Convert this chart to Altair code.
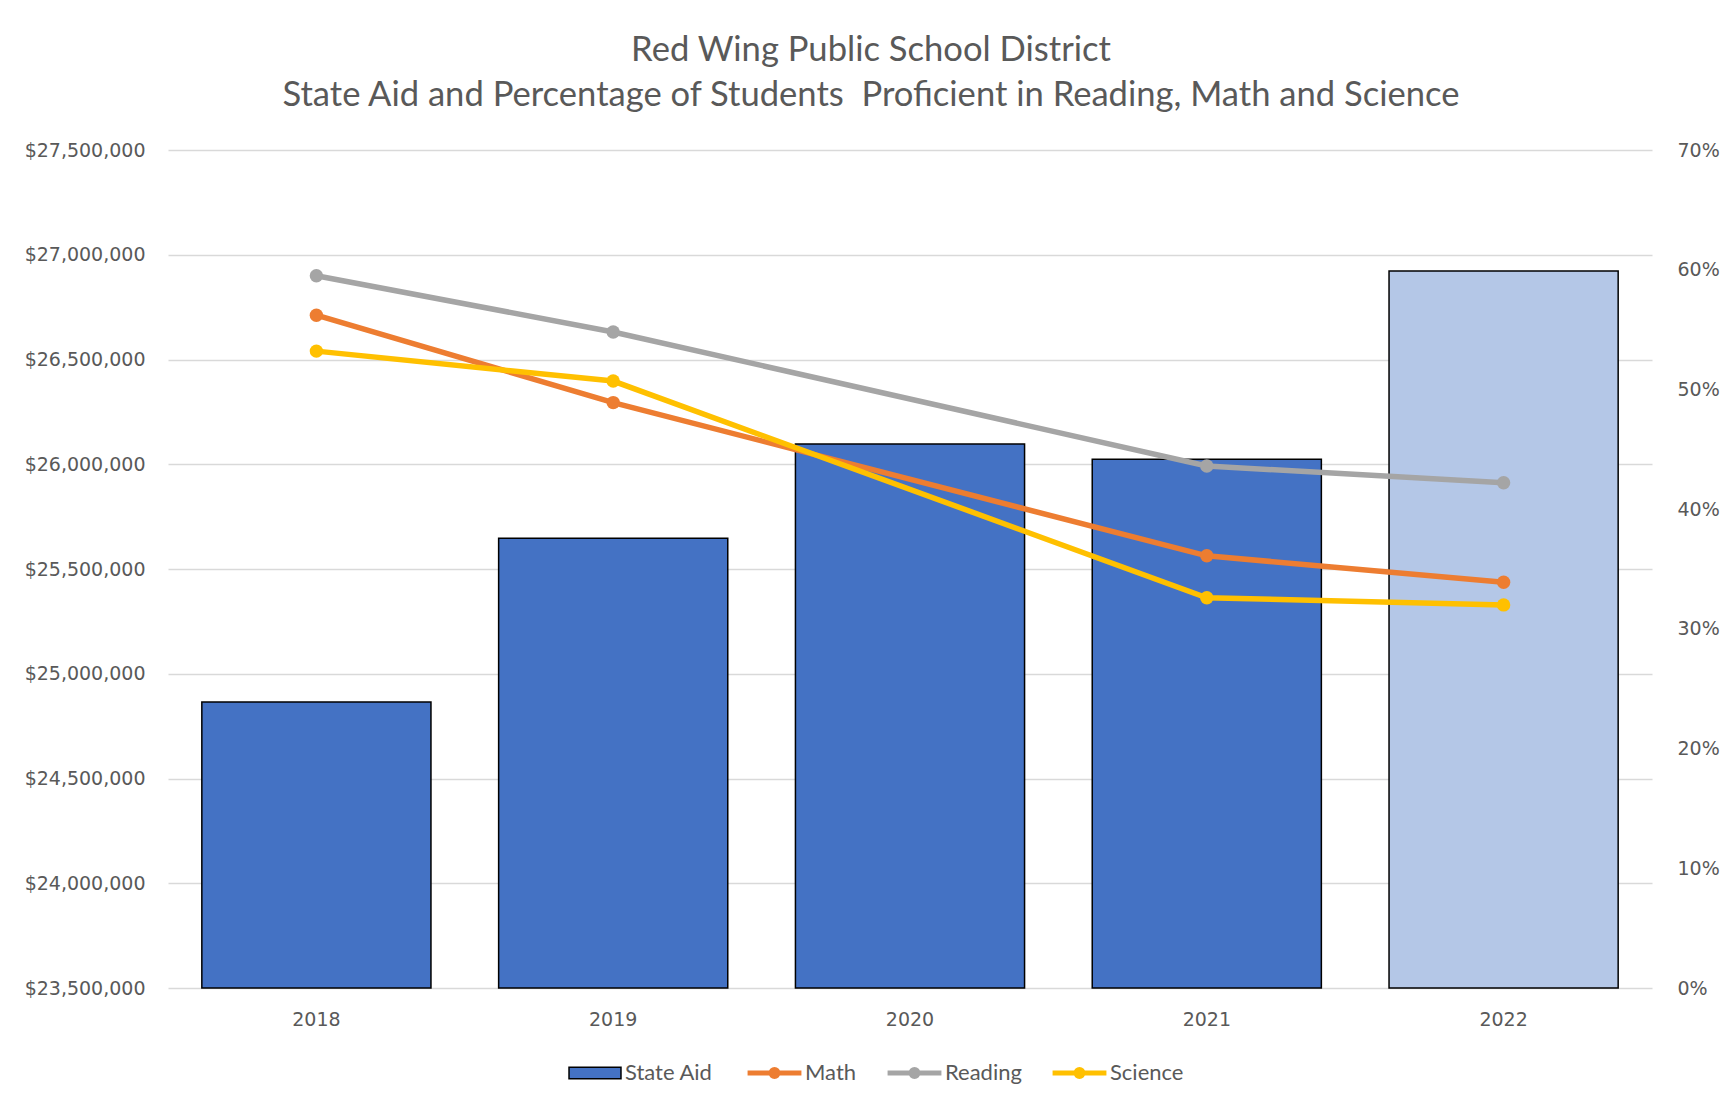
import altair as alt
import pandas as pd

years = ["2018", "2019", "2020", "2021", "2022"]
state_aid = [24865000, 25647000, 26097000, 26024000, 26922000]
math = [0.562, 0.489, None, 0.361, 0.339]
reading = [0.595, 0.548, None, 0.436, 0.422]
science = [0.532, 0.507, None, 0.326, 0.320]

line_names = ["Math", "Reading", "Science"]
line_colors = ["#ED7D31", "#A5A5A5", "#FFC000"]
bar_color = "#4472C4"
bar_color_2022 = "#B4C7E7"

money_ticks = list(range(23500000, 27500001, 500000))
pct_ticks = [0, 0.1, 0.2, 0.3, 0.4, 0.5, 0.6, 0.7]

bars_df = pd.DataFrame({"year": years, "aid": state_aid, "series": "State Aid"})
rows = []
for name, vals in zip(line_names, [math, reading, science]):
    for y, v in zip(years, vals):
        if v is not None:
            rows.append({"year": y, "pct": v, "series": name})
lines_df = pd.DataFrame(rows)

TXT = "#595959"
GRID = "#D9D9D9"

rect_path = "M-1,-0.22H1V0.22H-1Z"
line_path = "M-1,0H1M0.13,0A0.13,0.13,0,1,1,-0.13,0A0.13,0.13,0,1,1,0.13,0"

legend_common = dict(
    title=None, orient="none", direction="horizontal",
    labelFont="Lato", labelFontSize=22, labelColor=TXT,
    columnPadding=20,
)

bar_legend = alt.Legend(
    legendX=400, legendY=896, symbolType=rect_path, symbolSize=2700,
    symbolStrokeColor="#000000", symbolStrokeWidth=1.5, symbolOpacity=1,
    labelOffset=3, **legend_common,
)
line_legend = alt.Legend(
    legendX=577, legendY=893, symbolType=line_path, symbolSize=2900,
    symbolStrokeWidth=5, symbolOpacity=1,
    labelOffset=1, **legend_common,
)

x_axis = alt.Axis(
    title=None, labelAngle=0, domain=False, ticks=False, grid=False,
    labelFont="DejaVu Sans", labelFontSize=19, labelColor=TXT, labelPadding=22,
)
x_enc = alt.X(
    "year:N",
    sort=years,
    scale=alt.Scale(paddingInner=0.228, paddingOuter=0.114),
    axis=x_axis,
)

bars = alt.Chart(bars_df).mark_bar(stroke="#000000", strokeWidth=1.5, opacity=1).encode(
    x=x_enc,
    y=alt.Y(
        "aid:Q",
        scale=alt.Scale(domain=[23500000, 27500000], zero=False, nice=False),
        axis=alt.Axis(
            title=None, orient="left", values=money_ticks, format="$,.0f",
            domain=False, ticks=False, grid=True, gridColor=GRID, gridWidth=1.3,
            labelFont="DejaVu Sans", labelFontSize=19, labelColor=TXT, labelPadding=23,
        ),
    ),
    y2=alt.datum(23500000),
    fill=alt.condition(
        alt.datum.year == "2022",
        alt.value(bar_color_2022),
        alt.Fill("series:N", scale=alt.Scale(domain=["State Aid"], range=[bar_color]),
                 legend=bar_legend),
    ),
)

pct_axis = alt.Axis(
    title=None, orient="right", values=pct_ticks, format=".0%",
    domain=False, ticks=False, grid=False,
    labelFont="DejaVu Sans", labelFontSize=19, labelColor=TXT, labelPadding=25,
)
pct_scale = alt.Scale(domain=[0, 0.7], nice=False)

line_scale = alt.Scale(domain=line_names, range=line_colors)

lines = alt.Chart(lines_df).mark_line(strokeWidth=5.5, opacity=1).encode(
    x=alt.X("year:N", sort=years, axis=x_axis),
    y=alt.Y("pct:Q", scale=pct_scale, axis=pct_axis),
    stroke=alt.Stroke("series:N", scale=line_scale, legend=line_legend),
)
points = alt.Chart(lines_df).mark_circle(size=180, opacity=1).encode(
    x=alt.X("year:N", sort=years, axis=x_axis),
    y=alt.Y("pct:Q", scale=pct_scale, axis=pct_axis),
    fill=alt.Fill("series:N", scale=line_scale, legend=None),
)

chart = alt.layer(bars, alt.layer(lines, points)).resolve_scale(
    y="independent", fill="independent"
).properties(
    width=1484,
    height=838,
    background="white",
    autosize=alt.AutoSizeParams(type="none"),
    padding={"left": 160, "top": 142, "right": 74, "bottom": 114},
    title=alt.TitleParams(
        text=["Red Wing Public School District",
              "State Aid and Percentage of Students\u00a0 Proficient in Reading, Math and Science"],
        font="Lato", fontSize=34.6, fontWeight="normal", color=TXT,
        anchor="middle", dx=-39, lineHeight=45, offset=27,
    ),
).configure_view(
    strokeWidth=0
).configure_axis(
    domain=False, ticks=False
)

chart.save("out.html", embed_options={"renderer": "svg", "actions": False})
